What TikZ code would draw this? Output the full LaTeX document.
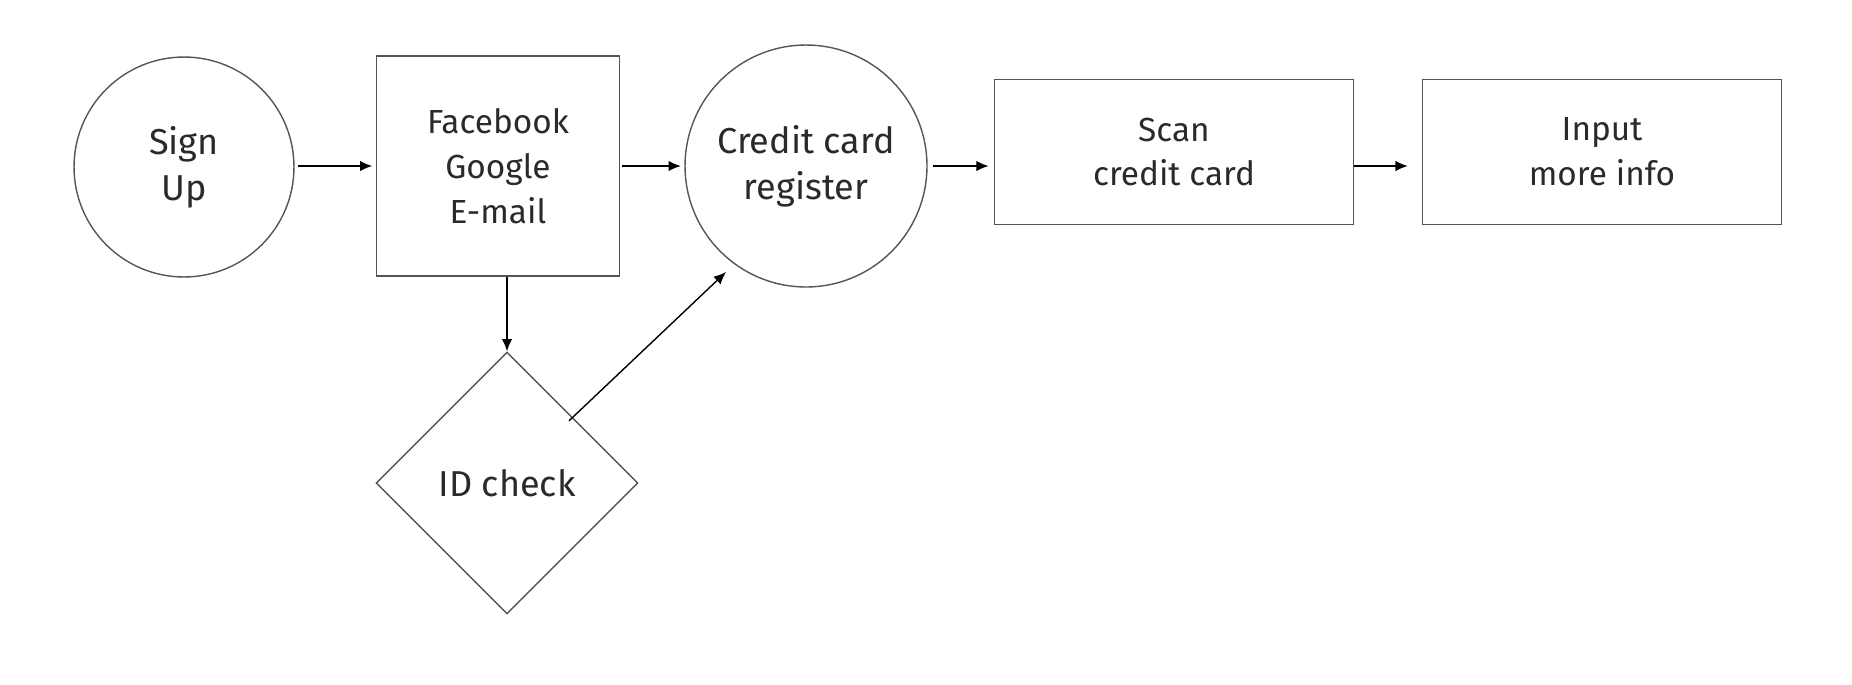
\documentclass[tikz,border=0pt]{standalone}
\usepackage{fontspec}
\setmainfont{Fira Sans}
\usetikzlibrary{shapes.geometric, arrows.meta}
\definecolor{txtgray}{HTML}{2A2A2A}
\definecolor{edgegray}{HTML}{555555}

\begin{document}
\begin{tikzpicture}[x=0.02cm, y=-0.02cm,
    shape base/.style={draw=edgegray, line width=0.8pt, text=txtgray, align=center, inner sep=0pt,
      font=\fontsize{19}{25.5}\selectfont},
    round/.style={shape base, circle, font=\fontsize{20.5}{26}\selectfont},
    box/.style={shape base, rectangle},
    check/.style={shape base, diamond, aspect=1, font=\fontsize{20.5}{26}\selectfont},
    arr/.style={line width=0.8pt, -{Latex[length=7pt,width=6pt]}}]
  \useasboundingbox (0,0) rectangle (1852,684);
  % steps of the sign up flow
  \node[round, minimum size=4.4cm] (signup) at (184,167) {Sign\\Up};
  \node[box, minimum width=4.86cm, minimum height=4.4cm] (social) at (498,166) {Facebook\\Google\\E-mail};
  \node[round, minimum size=4.84cm] (ccreg) at (806,166) {Credit card\\register};
  \node[box, minimum width=7.18cm, minimum height=2.9cm] (scan) at (1174,152) {Scan\\credit card};
  \node[box, minimum width=7.18cm, minimum height=2.9cm] (moreinfo) at (1602,152) {Input\\more info};
  \node[check, minimum width=5.24cm, minimum height=5.24cm] (idcheck) at (507,483) {ID check};
  \coordinate (ccin) at (726,272);
  % connectors
  \draw[arr, shorten <=2pt, shorten >=2pt] (signup.east |- social.west) -- (social.west);
  \draw[arr, shorten <=1pt, shorten >=2pt] (social.east) -- (social.east -| ccreg.west);
  \draw[arr, shorten <=3pt, shorten >=3pt] (ccreg.east) -- (ccreg.east -| scan.west);
  \draw[arr, shorten >=8pt] (scan.east |- ccreg.east) -- (moreinfo.west |- ccreg.east);
  \draw[arr] (social.south -| idcheck.north) -- (idcheck.north);
  \draw[arr, shorten <=-3pt] (idcheck.north east) -- (ccin);
\end{tikzpicture}
\end{document}
